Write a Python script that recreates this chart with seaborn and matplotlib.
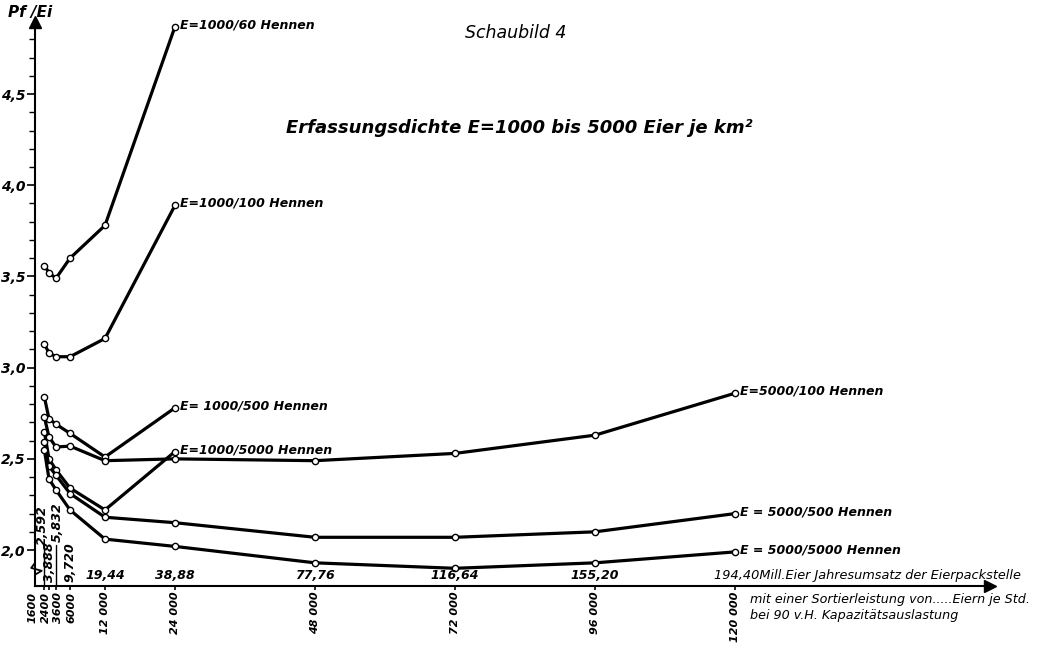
import numpy as np
import pandas as pd
import matplotlib
matplotlib.use("Agg")
import matplotlib.pyplot as plt
import seaborn as sns

# Sortierleistung (Eier je Std.) and the matching yearly turnover labels
sortier = [1600, 2400, 3600, 6000, 12000, 24000, 48000, 72000, 96000, 120000]
sortier_labels = ["1600", "2400", "3600", "6000", "12 000", "24 000", "48 000",
                  "72 000", "96 000", "120 000"]
mill_labels = ["2,592", "3,888", "5,832", "9,720", "19,44", "38,88", "77,76",
               "116,64", "155,20", "194,40"]

# Pf/Ei per curve
e1000_60 = [3.56, 3.52, 3.49, 3.60, 3.78, 4.87]
e1000_100 = [3.13, 3.08, 3.06, 3.06, 3.16, 3.89]
e1000_500 = [2.84, 2.72, 2.69, 2.64, 2.51, 2.78]
e1000_5000 = [2.65, 2.50, 2.44, 2.34, 2.22, 2.54]
e5000_100 = [2.73, 2.62, 2.565, 2.57, 2.49, 2.50, 2.49, 2.53, 2.63, 2.86]
e5000_500 = [2.59, 2.46, 2.41, 2.31, 2.18, 2.15, 2.07, 2.07, 2.10, 2.20]
e5000_5000 = [2.55, 2.39, 2.33, 2.22, 2.06, 2.02, 1.93, 1.90, 1.93, 1.99]

series = {
    "E=1000/60 Hennen": e1000_60,
    "E=1000/100 Hennen": e1000_100,
    "E= 1000/500 Hennen": e1000_500,
    "E=1000/5000 Hennen": e1000_5000,
    "E=5000/100 Hennen": e5000_100,
    "E = 5000/500 Hennen": e5000_500,
    "E = 5000/5000 Hennen": e5000_5000,
}

rows = []
for name, vals in series.items():
    for x, v in zip(sortier, vals):
        rows.append({"kurve": name, "sortier": x, "pf": v})
df = pd.DataFrame(rows)

sns.set_style("ticks")
plt.rcParams["font.family"] = ["DejaVu Sans"]
plt.rcParams["font.style"] = "italic"
plt.rcParams["text.color"] = "black"
plt.rcParams["xtick.color"] = "black"
plt.rcParams["ytick.color"] = "black"

fig = plt.figure(figsize=(10.41, 6.46), dpi=100)
ax = fig.add_axes([35 / 1041, 1 - 586 / 646, 955 / 1041, 564 / 646])

sns.lineplot(data=df, x="sortier", y="pf", hue="kurve", units="kurve",
             estimator=None, sort=False, palette={k: "black" for k in series},
             marker="o", markersize=4.5, markerfacecolor="white",
             markeredgecolor="black", markeredgewidth=1.0, linewidth=2.3,
             legend=False, ax=ax)

ax.set_xlim(0, 163700)
ax.set_ylim(1.803, 4.895)

# curve names at the last point
for name, vals in series.items():
    ax.annotate(name, xy=(sortier[len(vals) - 1], vals[-1]), xytext=(5, 2),
                textcoords="offset pixels", ha="left", va="center",
                fontsize=9, fontweight="bold")

# y axis
ax.set_yticks([2.0, 2.5, 3.0, 3.5, 4.0, 4.5])
ax.set_yticklabels(["2,0", "2,5", "3,0", "3,5", "4,0", "4,5"],
                   fontsize=10, fontweight="bold")
ax.set_yticks([v / 10 for v in range(21, 49) if v % 5 != 0], minor=True)
ax.tick_params(axis="y", which="major", length=6, width=1.2, pad=1)
ax.tick_params(axis="y", which="minor", length=4, width=1.0)

# x axis
ax.set_xticks(sortier)
ax.set_xticklabels(sortier_labels, rotation=90, fontsize=8, fontweight="bold")
ax.tick_params(axis="x", length=3, width=1.2, pad=1)
shifts = [-12, -3, 2, 1, 0, 0, 0, 0, 0, 0]
for lab, dx in zip(ax.get_xticklabels(), shifts):
    lab.set_transform(lab.get_transform() +
                      matplotlib.transforms.ScaledTranslation(dx / 100, 0, fig.dpi_scale_trans))

ax.set_xlabel("")
ax.set_ylabel("")
sns.despine(ax=ax)
for s in ["left", "bottom"]:
    ax.spines[s].set_linewidth(1.5)
    ax.spines[s].set_color("black")

# arrow heads
ax.plot([0], [1], marker="^", markersize=8, color="black",
        transform=ax.transAxes, clip_on=False)
ax.plot([1], [0], marker=">", markersize=9, color="black",
        transform=ax.transAxes, clip_on=False)

# y axis break
ax.plot([0, -0.004, 0.007, 0], [0.041, 0.032, 0.027, 0.020], color="black",
        lw=1.3, transform=ax.transAxes, clip_on=False)

# Mill. Eier labels above the x axis
xt = ax.get_xaxis_transform()
small = [(0, -2, 41), (1, 0, 4), (2, 1, 44), (3, 0, 4)]
for i, dx, dy in small:
    ax.annotate(mill_labels[i], xy=(sortier[i], 0), xycoords=xt,
                xytext=(dx, dy), textcoords="offset pixels", rotation=90,
                ha="center", va="bottom", fontsize=9, fontweight="bold")
for i in [0, 2]:
    ax.plot([sortier[i], sortier[i]], [0, 41 / 564], color="black", lw=1.0,
            transform=xt, clip_on=False)
for i in range(4, 9):
    ax.annotate(mill_labels[i], xy=(sortier[i], 0), xycoords=xt,
                xytext=(0, 4), textcoords="offset pixels",
                ha="center", va="bottom", fontsize=9, fontweight="bold")
ax.annotate(mill_labels[9] + "Mill.Eier Jahresumsatz der Eierpackstelle",
            xy=(sortier[9], 0), xycoords=xt, xytext=(-21, 4),
            textcoords="offset pixels", ha="left", va="bottom", fontsize=9.3)
ax.annotate("mit einer Sortierleistung von.....Eiern je Std.",
            xy=(sortier[9], 0), xycoords=xt, xytext=(15, -14),
            textcoords="offset pixels", ha="left", va="center", fontsize=9.2)
ax.annotate("bei 90 v.H. Kapazitätsauslastung",
            xy=(sortier[9], 0), xycoords=xt, xytext=(15, -30),
            textcoords="offset pixels", ha="left", va="center", fontsize=9.2)

fig.text(30 / 1041, 1 - 13 / 646, "Pf /Ei", ha="center", va="center",
         fontsize=11, fontweight="bold")
fig.text(516 / 1041, 1 - 33 / 646, "Schaubild 4", ha="center", va="center",
         fontsize=12.5)
fig.text(519 / 1041, 1 - 128 / 646, "Erfassungsdichte E=1000 bis 5000 Eier je km²",
         ha="center", va="center", fontsize=13, fontweight="bold")

fig.savefig("out.png", dpi=100, facecolor="white")
